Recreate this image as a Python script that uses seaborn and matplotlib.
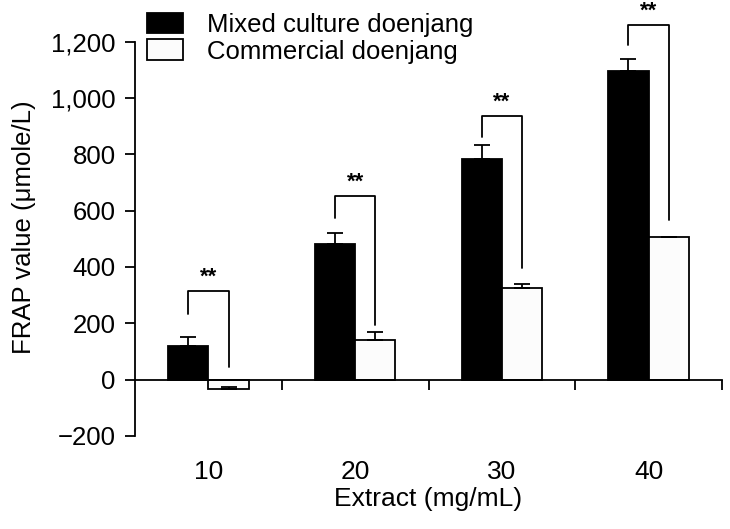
import matplotlib
matplotlib.use("Agg")
import matplotlib.pyplot as plt
import matplotlib.transforms as mtransforms
import seaborn as sns
import pandas as pd
import numpy as np

extracts = ["10", "20", "30", "40"]
mixed = [121, 480, 782, 1098]
mixed_err = [32, 40, 52, 41]
commercial = [-32, 142, 327, 506]
commercial_err = [5, 28, 13, 0]
groups = ["Mixed culture doenjang", "Commercial doenjang"]

# significance brackets (left leg end, top, right leg end)
bracket_left = [234, 575, 863, 1189]
bracket_top = [316, 653, 937, 1260]
bracket_right = [46, 195, 397, 568]

df = pd.DataFrame({
    "Extract": extracts * 2,
    "Group": [groups[0]] * 4 + [groups[1]] * 4,
    "FRAP": mixed + commercial,
})

sns.set_style("white")
plt.rcParams["font.family"] = ["Liberation Sans", "DejaVu Sans"]
plt.rcParams.update({"text.color": "black", "axes.labelcolor": "black",
                     "xtick.color": "black", "ytick.color": "black"})

fig = plt.figure(figsize=(7.3, 5.29), dpi=100)
ax = fig.add_axes([0.185, 0.176, 0.804, 0.745])

bw = 0.55
sns.barplot(data=df, x="Extract", y="FRAP", hue="Group", palette=["black", "#fcfcfc"],
            edgecolor="black", linewidth=1.3, width=bw, errorbar=None, ax=ax)

off = bw / 4
xs = np.arange(len(extracts))
ax.errorbar(xs - off, mixed, yerr=[np.zeros(4), mixed_err], fmt="none",
            ecolor="black", elinewidth=1.3, capsize=6, capthick=1.3)
ax.errorbar(xs + off, commercial, yerr=[np.zeros(4), commercial_err], fmt="none",
            ecolor="black", elinewidth=1.3, capsize=6, capthick=1.3)

for i in range(4):
    ax.plot([xs[i] - off, xs[i] - off, xs[i] + off, xs[i] + off],
            [bracket_left[i], bracket_top[i], bracket_top[i], bracket_right[i]],
            color="black", lw=1.3, clip_on=False)
    ax.text(xs[i], bracket_top[i] + 10, "**", ha="center", va="bottom",
            fontsize=16, fontweight="bold", clip_on=False)

ax.set_xlim(-0.5, 3.5)
ax.set_ylim(-200, 1200)
ax.set_yticks(np.arange(-200, 1201, 200))
ax.set_yticklabels([f"{v:,}".replace("-", "\u2212") for v in range(-200, 1201, 200)])
ax.spines["top"].set_visible(False)
ax.spines["right"].set_visible(False)
ax.spines["bottom"].set_position(("data", 0))
for s in ["left", "bottom"]:
    ax.spines[s].set_linewidth(1.3)
    ax.spines[s].set_color("black")

ax.set_xticks([0.5, 1.5, 2.5, 3.5])
ax.set_xticklabels([])
ax.tick_params(axis="both", direction="out", length=7, width=1.3, color="black",
               labelcolor="black", left=True, bottom=True, labelsize=18.5, pad=7)

trans = mtransforms.blended_transform_factory(ax.transData, ax.transAxes)
for i, lab in enumerate(extracts):
    ax.text(xs[i], -0.06, lab, transform=trans, ha="center", va="top", fontsize=19)
ax.text(1.5, -0.13, "Extract (mg/mL)", transform=trans, ha="center", va="top", fontsize=19)

ax.set_xlabel("")
ax.set_ylabel("FRAP value (\u03bcmole/L)", fontsize=18.5)
ax.yaxis.set_label_coords(-0.168, 0.53)

ax.legend(loc="upper left", bbox_to_anchor=(0.003, 1.1), frameon=False, fontsize=18.5,
          handlelength=1.4, handleheight=0.85, handletextpad=0.95, labelspacing=0.1,
          borderaxespad=0)

fig.savefig("out.png", dpi=100)
